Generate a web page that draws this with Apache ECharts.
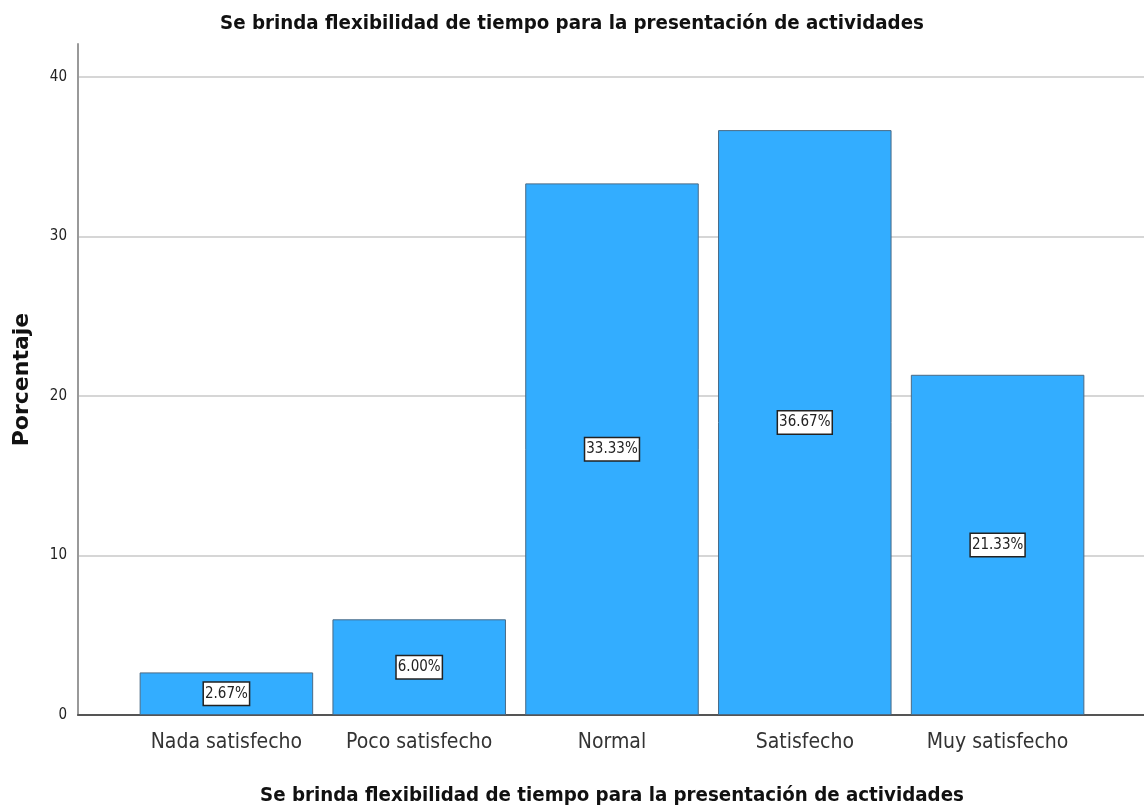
<!DOCTYPE html>
<html>
<head>
<meta charset="utf-8">
<script src="https://cdn.jsdelivr.net/npm/echarts@6/dist/echarts.min.js"></script>
<style>
  html, body { margin: 0; padding: 0; background: #fff; }
  #chart { width: 1144px; height: 812px; }
</style>
</head>
<body>
<div id="chart"></div>
<script>
const categories = ['Nada satisfecho', 'Poco satisfecho', 'Normal', 'Satisfecho', 'Muy satisfecho'];
const percentages = [2.67, 6.00, 33.33, 36.67, 21.33];
const yTicks = [0, 40, 10]; // min, max, interval

const narrow = '"DejaVu Sans Condensed", "Liberation Sans Narrow", "Liberation Sans", sans-serif';
const titleText = 'Se brinda flexibilidad de tiempo para la presentación de actividades';

const myChart = echarts.init(document.getElementById('chart'));

const option = {
  animation: false,
  backgroundColor: '#fff',
  title: {
    text: titleText,
    left: 'center',
    top: 9,
    textStyle: { fontFamily: narrow, fontSize: 20.3, fontWeight: 'bold', color: '#111' }
  },
  grid: [
    // gridlines + tick labels
    { left: 78, right: 0, top: 77, bottom: 97, outerBoundsMode: 'none' },
    // bars
    { left: 130, width: 964, top: 77, bottom: 97, outerBoundsMode: 'none' },
    // axis frame (taller y line)
    { left: 78, right: 0, top: 44, bottom: 97, outerBoundsMode: 'none' }
  ],
  xAxis: [
    { gridIndex: 0, type: 'value', show: false },
    {
      gridIndex: 1,
      type: 'category',
      data: categories,
      axisLine: { show: false },
      axisTick: { show: false },
      axisLabel: { interval: 0, fontFamily: narrow, fontSize: 21, color: '#333', margin: 17 },
      name: titleText,
      nameLocation: 'middle',
      nameGap: 71,
      nameTextStyle: { fontFamily: narrow, fontSize: 20.3, fontWeight: 'bold', color: '#111' }
    },
    {
      gridIndex: 2,
      type: 'value',
      axisLine: { show: true, onZero: false, lineStyle: { color: '#555', width: 2 } },
      axisTick: { show: false },
      axisLabel: { show: false },
      splitLine: { show: false }
    }
  ],
  yAxis: [
    {
      gridIndex: 0,
      type: 'value',
      min: yTicks[0],
      max: yTicks[1],
      interval: yTicks[2],
      axisLine: { show: false },
      axisTick: { show: false },
      axisLabel: { fontFamily: narrow, fontSize: 15, color: '#222', margin: 11 },
      splitLine: { show: true, lineStyle: { color: '#c8c8c8', width: 1.5 } }
    },
    {
      gridIndex: 1,
      type: 'value',
      min: yTicks[0],
      max: yTicks[1],
      show: false
    },
    {
      gridIndex: 2,
      type: 'value',
      min: 0,
      max: 1,
      axisLine: { show: true, lineStyle: { color: '#999', width: 2 } },
      axisTick: { show: false },
      axisLabel: { show: false },
      splitLine: { show: false },
      name: 'Porcentaje',
      nameLocation: 'middle',
      nameGap: 45,
      nameTextStyle: { fontFamily: '"DejaVu Sans", sans-serif', fontSize: 22, fontWeight: 'bold', color: '#111' }
    }
  ],
  series: [
    {
      name: 'Porcentaje',
      type: 'bar',
      xAxisIndex: 1,
      yAxisIndex: 1,
      data: percentages,
      barCategoryGap: '10%',
      itemStyle: { color: '#33adff', borderColor: '#4a6a85', borderWidth: 1 },
      label: {
        show: true,
        position: 'inside',
        formatter: p => p.value.toFixed(2) + '%',
        fontFamily: narrow,
        fontSize: 15,
        color: '#222',
        backgroundColor: '#fff',
        borderColor: '#222',
        borderWidth: 1.5,
        padding: [4, 1, 3, 1]
      },
      z: 3
    }
  ]
};

myChart.setOption(option);
window.addEventListener('resize', () => myChart.resize());
</script>
</body>
</html>
